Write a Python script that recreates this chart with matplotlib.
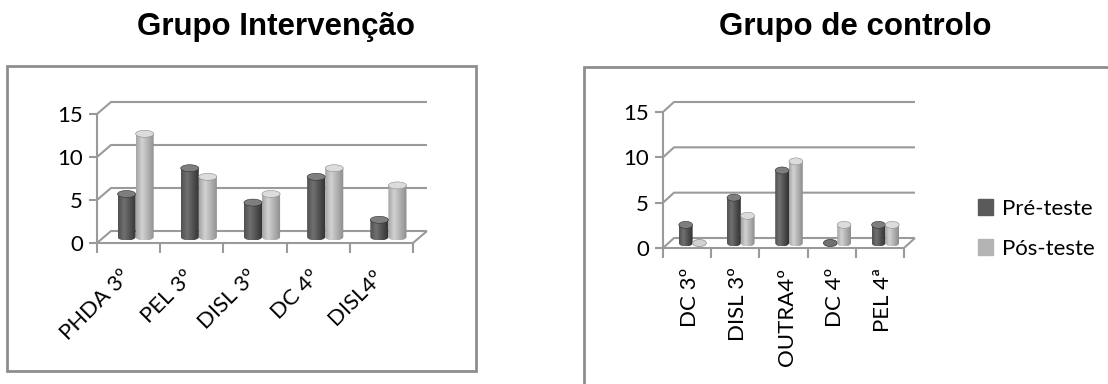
import matplotlib.pyplot as plt
import numpy as np
from matplotlib.patches import Ellipse, PathPatch, Patch, Rectangle
from matplotlib.path import Path
from matplotlib.transforms import ScaledTranslation

plt.rcParams['font.family'] = ['Lato', 'DejaVu Sans']

W, H = 1108, 384

series = ['Pré-teste', 'Pós-teste']

grupos_int = ['PHDA 3º', 'PEL 3º', 'DISL 3º', 'DC 4º', 'DISL4º']
int_pre = [5, 8, 4, 7, 2]
int_pos = [12, 7, 5, 8, 6]

grupos_ctl = ['DC 3º', 'DISL 3º', 'OUTRA4º', 'DC 4º', 'PEL 4ª']
ctl_pre = [2, 5, 8, 0, 2]
ctl_pos = [0, 3, 9, 2, 2]

yticks = [0, 5, 10, 15]

FS = 16
GRID = '#9a9a9a'
# (borda esquerda, brilho, borda direita, tampa)
SHADES = [('#505050', '#707070', '#303030', '#7e7e7e'),
          ('#a4a4a4', '#d2d2d2', '#8c8c8c', '#dcdcdc')]
LEGEND = ['#5a5a5a', '#b4b4b4']

fig = plt.figure(figsize=(W / 100, H / 100), dpi=100)


def px_axes(x0, x1, ytop, ybot):
    return fig.add_axes([x0 / W, 1 - ybot / H, (x1 - x0) / W, (ybot - ytop) / H])


def box(x0, x1, ytop, ybot):
    fig.add_artist(Rectangle((x0 / W, 1 - ybot / H), (x1 - x0) / W, (ybot - ytop) / H,
                             transform=fig.transFigure, fill=False,
                             ec='#8e8e8e', lw=2))


def cylinder(ax, xc, h, w, base, cap, shade):
    left, right = xc - w / 2, xc + w / 2
    top = base + h
    if h == 0:
        ax.add_patch(Ellipse((xc, base), w, cap, fc=shade[1], ec=shade[2],
                             lw=0.5, zorder=3))
        return
    ang = np.linspace(np.pi, 2 * np.pi, 30)
    arc = np.column_stack([xc + w / 2 * np.cos(ang), base + cap / 2 * np.sin(ang)])
    verts = np.vstack([[left, top], arc, [right, top], [left, top]])
    codes = [Path.MOVETO] + [Path.LINETO] * (len(verts) - 2) + [Path.CLOSEPOLY]
    clip = PathPatch(Path(verts, codes), transform=ax.transData, fc='none', ec='none')
    ax.add_patch(clip)

    t = np.linspace(0, 1, 64)
    cols = [np.array(plt.matplotlib.colors.to_rgb(c)) for c in shade[:3]]
    grad = np.array([np.interp(t, [0, 0.32, 1], [cols[0][k], cols[1][k], cols[2][k]])
                     for k in range(3)]).T[None, :, :]
    im = ax.imshow(grad, extent=[left, right, base - cap / 2, top],
                   aspect='auto', interpolation='bilinear', zorder=3)
    im.set_clip_path(clip)
    ax.add_patch(Ellipse((xc, top), w, cap, fc=shade[3], ec=shade[2], lw=0.4, zorder=4))


def panel(x0, x1, ytop, ybot, ddx, ddy, cats, pre, pos, rot, lab_pad, lab_dx):
    ax = px_axes(x0, x1, ytop, ybot)
    n = len(cats)
    cw = (x1 - x0) / n
    unit = (ybot - ytop) / 15
    dx, dy = ddx / cw, ddy / unit
    ax.set_xlim(-0.5, n - 0.5)
    ax.set_ylim(0, 15)
    ax.set_autoscale_on(False)
    for s in ax.spines.values():
        s.set_visible(False)

    # paredes e chão
    kw = dict(color=GRID, lw=1.5, clip_on=False, zorder=1, solid_capstyle='butt')
    for v in yticks:
        ax.plot([-0.5, -0.5 + dx, n - 0.5 + dx], [v, v + dy, v + dy], **kw)
    ax.plot([-0.5, -0.5], [0, 15], **kw)
    ax.plot([-0.5, n - 0.5, n - 0.5 + dx], [0, 0, dy], **kw)

    w = 0.286
    for i in range(n):
        c = i + dx / 2
        cylinder(ax, c - w / 2, pre[i], w, dy / 2, 7 / unit, SHADES[0])
        cylinder(ax, c + w / 2, pos[i], w, dy / 2, 7 / unit, SHADES[1])

    ax.set_yticks(yticks)
    ax.set_xticks(range(n))
    ax.set_xticks(np.arange(n + 1) - 0.5, minor=True)
    ax.tick_params(axis='y', length=6, width=1.5, color=GRID, pad=4, labelsize=FS)
    ax.tick_params(axis='x', which='major', length=0, pad=lab_pad, labelsize=FS)
    ax.tick_params(axis='x', which='minor', length=7, width=1.5, color=GRID)
    if rot == 45:
        ax.set_xticklabels(cats, rotation=45, ha='right', va='top')
    else:
        ax.set_xticklabels(cats, rotation=90, ha='center', va='top')
    shift = ScaledTranslation(lab_dx / 100, 0, fig.dpi_scale_trans)
    for lab in ax.get_xticklabels():
        lab.set_transform(lab.get_transform() + shift)
    return ax


box(7, 476, 66, 371)
box(584, 1112, 67, 392)

panel(97, 413, 114, 243, 14, 12, grupos_int, int_pre, int_pos, 45, 17, 6)
panel(663, 904, 112, 248, 11, 10, grupos_ctl, ctl_pre, ctl_pos, 90, 14, 3)

fig.text(276 / W, 1 - 35 / H, 'Grupo Intervenção', ha='center', va='baseline',
         fontsize=22.5, fontweight='bold', family='Liberation Sans')
fig.text(855 / W, 1 - 35 / H, 'Grupo de controlo', ha='center', va='baseline',
         fontsize=22.5, fontweight='bold', family='Liberation Sans')

handles = [Patch(color=c, label=s) for c, s in zip(LEGEND, series)]
fig.legend(handles=handles, loc='center left', bbox_to_anchor=(969 / W, 1 - 229 / H),
           frameon=False, fontsize=FS, handlelength=0.7, handleheight=0.7,
           handletextpad=0.4, labelspacing=0.9, borderaxespad=0)

fig.savefig('out.png', dpi=100)
